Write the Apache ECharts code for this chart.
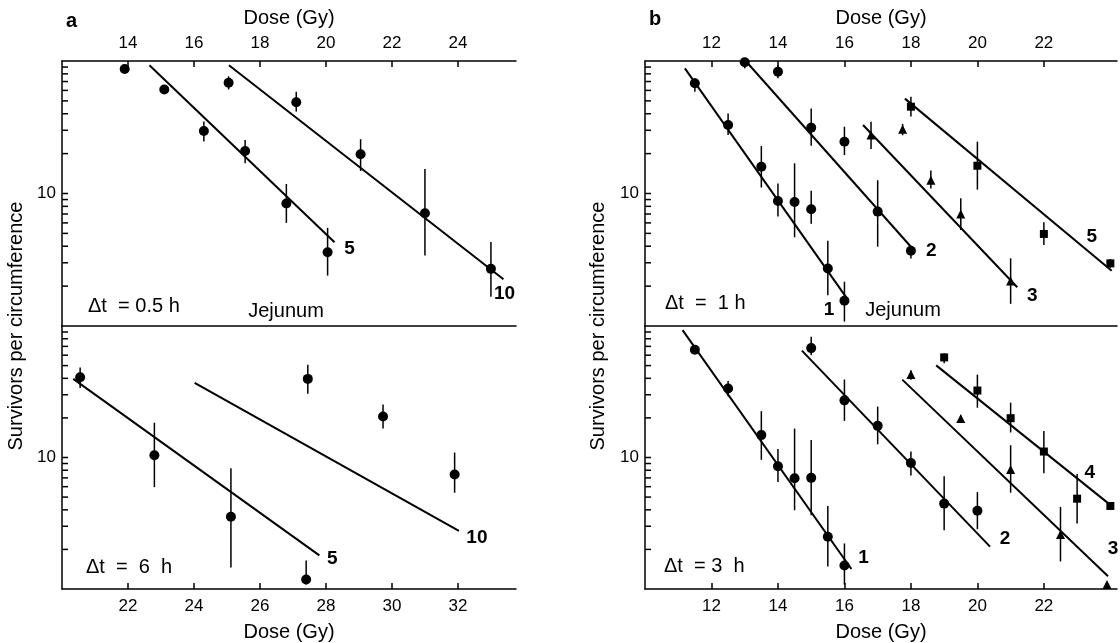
<!DOCTYPE html>
<html>
<head>
<meta charset="utf-8">
<title>Jejunum crypt survival</title>
<script src="https://cdn.jsdelivr.net/npm/echarts@6/dist/echarts.min.js"></script>
<style>
  html, body { margin: 0; padding: 0; background: #fff; }
  #chart { width: 1120px; height: 643px; }
</style>
</head>
<body>
<div id="chart"></div>
<script>
// ---- data ----
// panel a, top: dt = 0.5 h
var aTopDose = [13.9, 15.1, 16.3, 17.05, 17.55, 19.1, 18.8, 20.05, 21.05, 23.0, 25.0];
var aTopSurv = [87, 61, 29.6, 68.6, 20.9, 48.8, 8.4, 3.6, 19.8, 7.1, 2.7];
var aTopLow  = [81, 56.5, 24.7, 61, 16.9, 41.5, 6.0, 2.4, 14.8, 3.4, 1.66];
var aTopHigh = [93, 62, 34.9, 76.6, 25.3, 58.6, 11.8, 5.5, 25.7, 15.3, 4.3];
var aTopFit5  = [[14.65, 93], [20.26, 4.28]];
var aTopFit10 = [[17.06, 93], [25.38, 2.25]];

// panel a, bottom: dt = 6 h
var aBotDose = [20.55, 22.8, 25.12, 27.45, 27.4, 29.73, 31.9];
var aBotSurv = [40.7, 10.4, 3.54, 39.6, 1.18, 20.5, 7.42];
var aBotLow  = [33.8, 5.95, 1.46, 30.6, 1.08, 16.6, 5.4];
var aBotHigh = [48.3, 18.4, 8.3, 50.7, 1.65, 25.3, 10.9];
var aBotFit5  = [[20.34, 39.6], [27.8, 1.80]];
var aBotFit10 = [[24.02, 37], [32.03, 2.77]];

// panel b, top: dt = 1 h
var bTopCircDose = [11.5, 12.5, 13.0, 14.0, 13.5, 14.0, 14.5, 15.0, 15.5, 16.0, 15.0, 16.0, 17.0, 18.0];
var bTopCircSurv = [67.9, 32.9, 98, 83, 15.9, 8.78, 8.63, 7.6, 2.72, 1.55, 31.4, 24.6, 7.3, 3.7];
var bTopCircLow  = [58.5, 27.6, 88, 74, 11.1, 6.7, 4.67, 5.9, 1.71, 1.08, 22.9, 19.5, 3.97, 3.23];
var bTopCircHigh = [74, 40.2, 100, 93, 22.8, 11.9, 16.9, 10.5, 4.4, 2.16, 43.8, 31.9, 12.6, 3.97];
var bTopTriDose = [16.8, 17.75, 18.6, 19.5, 21.0];
var bTopTriSurv = [27.6, 30.5, 12.6, 7.0, 2.19];
var bTopTriLow  = [21.7, 27.5, 10.9, 5.3, 1.47];
var bTopTriHigh = [34.8, 33.5, 14.9, 9.2, 3.24];
var bTopSqDose = [18.0, 20.0, 22.0, 24.0];
var bTopSqSurv = [45.2, 16.2, 4.95, 2.97];
var bTopSqLow  = [38.1, 10.7, 4.08, 2.75];
var bTopSqHigh = [53.7, 24.6, 6.06, 3.2];
var bTopFit1 = [[11.2, 88], [16.05, 1.65]];
var bTopFit2 = [[13.03, 100], [18.04, 3.86]];
var bTopFit3 = [[16.56, 32.9], [21.2, 1.96]];
var bTopFit5 = [[17.82, 52], [24.04, 2.61]];

// panel b, bottom: dt = 3 h
var bBotCircDose = [11.5, 12.5, 13.5, 14.0, 14.5, 15.0, 15.5, 16.0, 15.0, 16.0, 17.0, 18.0, 19.0, 20.0];
var bBotCircSurv = [65.9, 33.5, 14.8, 8.58, 6.96, 7.0, 2.5, 1.51, 67.9, 27.2, 17.4, 9.09, 4.46, 3.93];
var bBotCircLow  = [62, 29.2, 9.6, 6.5, 3.97, 3.63, 1.48, 1.08, 60, 19.0, 12.6, 7.3, 2.8, 2.85];
var bBotCircHigh = [70, 38.1, 22.5, 11.6, 16.6, 13.6, 4.28, 2.22, 83, 39.2, 24.4, 11.1, 7.2, 5.46];
var bBotTriDose = [18.0, 19.5, 21.0, 22.5, 23.9];
var bBotTriSurv = [42.7, 19.8, 8.09, 2.6, 1.08];
var bBotTriLow  = [39, 18.8, 5.4, 1.62, 1.05];
var bBotTriHigh = [46, 20.8, 12.4, 4.21, 1.12];
var bBotSqDose = [19.0, 20.0, 21.0, 22.0, 23.0, 24.0];
var bBotSqSurv = [57.7, 32.3, 19.9, 11.1, 4.86, 4.28];
var bBotSqLow  = [52, 23.9, 15.5, 7.6, 3.15, 4.1];
var bBotSqHigh = [62, 42.7, 26.1, 15.9, 7.5, 4.5];
var bBotFit1 = [[11.13, 93], [16.21, 1.42]];
var bBotFit2 = [[14.72, 65], [20.38, 2.1]];
var bBotFit3 = [[17.74, 39.1], [23.93, 1.25]];
var bBotFit4 = [[18.76, 50.2], [23.95, 4.46]];

// tick labels
var aTopTicks = [14, 16, 18, 20, 22, 24];
var aBotTicks = [22, 24, 26, 28, 30, 32];
var bTicks = [12, 14, 16, 18, 20, 22];
var logTicks = [2, 3, 4, 5, 6, 7, 8, 9, 10, 20, 30, 40, 50, 60, 70, 80, 90];

var INK = '#000';
var FONT = '"Liberation Sans", Arial, Helvetica, sans-serif';

var myChart = echarts.init(document.getElementById('chart'));

function xAxis(grid, pos, min, max, ticks) {
  return {
    type: 'value', gridIndex: grid, position: pos, min: min, max: max, interval: 2,
    name: 'Dose (Gy)', nameLocation: 'middle', nameGap: 33,
    nameTextStyle: { fontSize: 20, color: INK, fontFamily: FONT },
    axisLine: { show: true, onZero: false, lineStyle: { color: INK, width: 1.5 } },
    axisTick: { show: true, inside: true, length: 6, customValues: ticks, lineStyle: { color: INK, width: 1.5 } },
    axisLabel: { show: true, customValues: ticks, margin: 9, fontSize: 17, color: INK, fontFamily: FONT },
    splitLine: { show: false }
  };
}
function borderAxis(grid) {
  return {
    type: 'value', gridIndex: grid, position: 'bottom', min: 0, max: 1,
    axisLine: { show: true, onZero: false, lineStyle: { color: INK, width: 1.5 } },
    axisTick: { show: false }, axisLabel: { show: false }, splitLine: { show: false }
  };
}
function yAxis(grid) {
  return {
    type: 'log', logBase: 10, gridIndex: grid, min: 1, max: 100,
    axisLine: { show: true, onZero: false, lineStyle: { color: INK, width: 1.5 } },
    axisTick: { show: false },
    axisLabel: {
      margin: 6, fontSize: 17, color: INK, fontFamily: FONT,
      formatter: function (v) { return Math.abs(v - 10) < 1e-6 ? '10' : ''; }
    },
    splitLine: { show: false }
  };
}

// minor ticks of the log axes, drawn at the left edge of each grid
function tickSeries(g, xMin) {
  return {
    type: 'custom', xAxisIndex: g, yAxisIndex: g, silent: true, z: 5,
    data: logTicks.map(function (v) { return [xMin, v]; }),
    renderItem: function (params, api) {
      var y = api.coord([api.value(0), api.value(1)])[1];
      var x = params.coordSys.x;
      return { type: 'line', shape: { x1: x, y1: y, x2: x + 6, y2: y },
        style: { stroke: INK, lineWidth: 1.5 } };
    }
  };
}
function errSeries(g, dose, low, high) {
  return {
    type: 'custom', xAxisIndex: g, yAxisIndex: g, silent: true, z: 3,
    data: dose.map(function (d, i) { return [d, low[i], high[i]]; }),
    renderItem: function (params, api) {
      var p0 = api.coord([api.value(0), api.value(1)]);
      var p1 = api.coord([api.value(0), api.value(2)]);
      return { type: 'line', shape: { x1: p0[0], y1: p0[1], x2: p1[0], y2: p1[1] },
        style: { stroke: INK, lineWidth: 1.5 } };
    }
  };
}
function ptSeries(g, dose, surv, symbol, size) {
  return {
    type: 'scatter', xAxisIndex: g, yAxisIndex: g, symbol: symbol, symbolSize: size,
    clip: false, z: 4, itemStyle: { color: INK, opacity: 1 },
    data: dose.map(function (d, i) { return [d, surv[i]]; })
  };
}
function fitSeries(g, pts, label, off) {
  return {
    type: 'line', xAxisIndex: g, yAxisIndex: g, data: pts, symbol: 'none', z: 4,
    lineStyle: { color: INK, width: 2 },
    endLabel: {
      show: true, formatter: label, distance: 0, offset: off,
      align: 'center', verticalAlign: 'middle',
      fontSize: 19, fontWeight: 'bold', color: INK, fontFamily: FONT
    }
  };
}
function txt(x, y, s, opts) {
  return {
    type: 'text', x: x, y: y, rotation: opts.rot || 0,
    style: {
      text: s, fill: INK, fontFamily: FONT, fontSize: opts.size || 20,
      fontWeight: opts.weight || 'normal',
      align: opts.align || 'left', verticalAlign: 'middle'
    }
  };
}

myChart.setOption({
  animation: false,
  backgroundColor: '#fff',
  grid: [
    { left: 62, top: 61, width: 454, height: 265 },
    { left: 62, top: 326, width: 454, height: 265 },
    { left: 645, top: 61, width: 472, height: 265 },
    { left: 645, top: 326, width: 472, height: 265 }
  ],
  xAxis: [
    xAxis(0, 'top', 12, 25.76, aTopTicks),
    xAxis(1, 'bottom', 20, 33.76, aBotTicks),
    xAxis(2, 'top', 10, 24.2, bTicks),
    xAxis(3, 'bottom', 10, 24.2, bTicks),
    borderAxis(0),
    borderAxis(2)
  ],
  yAxis: [yAxis(0), yAxis(1), yAxis(2), yAxis(3)],
  graphic: [
    txt(66, 21, 'a', { weight: 'bold', size: 20 }),
    txt(649, 19, 'b', { weight: 'bold', size: 20 }),
    txt(16, 326, 'Survivors per circumference', { rot: Math.PI / 2, align: 'center' }),
    txt(598, 326, 'Survivors per circumference', { rot: Math.PI / 2, align: 'center' }),
    txt(88, 306, '\u0394t  = 0.5 h', {}),
    txt(286, 311, 'Jejunum', { align: 'center' }),
    txt(86, 567, '\u0394t  =  6  h', {}),
    txt(665, 303, '\u0394t  =  1 h', {}),
    txt(903, 310, 'Jejunum', { align: 'center' }),
    txt(664, 566, '\u0394t  = 3  h', {})
  ],
  series: [
    tickSeries(0, 12), tickSeries(1, 20), tickSeries(2, 10), tickSeries(3, 10),

    errSeries(0, aTopDose, aTopLow, aTopHigh),
    ptSeries(0, aTopDose, aTopSurv, 'circle', 10),
    fitSeries(0, aTopFit5, '5', [15, 6]),
    fitSeries(0, aTopFit10, '10', [1, 14]),

    errSeries(1, aBotDose, aBotLow, aBotHigh),
    ptSeries(1, aBotDose, aBotSurv, 'circle', 10),
    fitSeries(1, aBotFit5, '5', [13, 3]),
    fitSeries(1, aBotFit10, '10', [18, 7]),

    errSeries(2, bTopCircDose, bTopCircLow, bTopCircHigh),
    errSeries(2, bTopTriDose, bTopTriLow, bTopTriHigh),
    errSeries(2, bTopSqDose, bTopSqLow, bTopSqHigh),
    ptSeries(2, bTopCircDose, bTopCircSurv, 'circle', 10),
    ptSeries(2, bTopTriDose, bTopTriSurv, 'triangle', 9),
    ptSeries(2, bTopSqDose, bTopSqSurv, 'rect', 8),
    fitSeries(2, bTopFit1, '1', [-17, 13]),
    fitSeries(2, bTopFit2, '2', [19, 2]),
    fitSeries(2, bTopFit3, '3', [15, 8]),
    fitSeries(2, bTopFit5, '5', [-20, -34]),

    errSeries(3, bBotCircDose, bBotCircLow, bBotCircHigh),
    errSeries(3, bBotTriDose, bBotTriLow, bBotTriHigh),
    errSeries(3, bBotSqDose, bBotSqLow, bBotSqHigh),
    ptSeries(3, bBotCircDose, bBotCircSurv, 'circle', 10),
    ptSeries(3, bBotTriDose, bBotTriSurv, 'triangle', 9),
    ptSeries(3, bBotSqDose, bBotSqSurv, 'rect', 8),
    fitSeries(3, bBotFit1, '1', [12, -11]),
    fitSeries(3, bBotFit2, '2', [15, -8]),
    fitSeries(3, bBotFit3, '3', [5, -27]),
    fitSeries(3, bBotFit4, '4', [-19, -31])
  ]
});
</script>
</body>
</html>
